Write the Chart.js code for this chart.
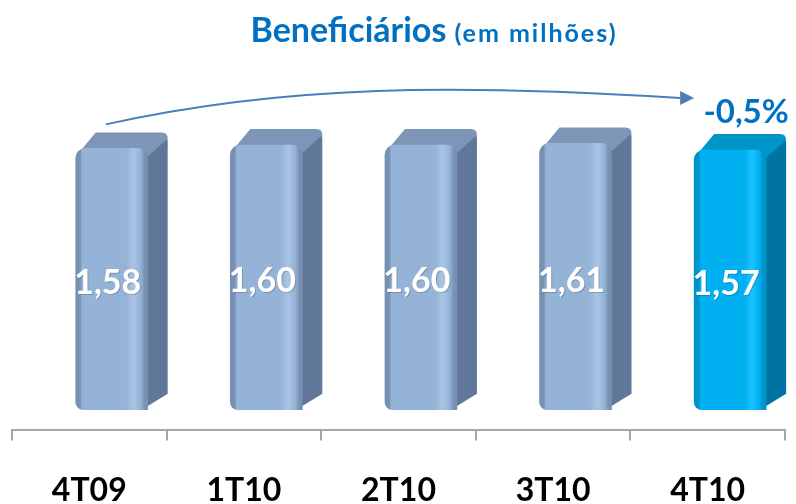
<!DOCTYPE html>
<html><head><meta charset="utf-8">
<script src="https://cdn.jsdelivr.net/npm/chart.js@4"></script>
<style>html,body{margin:0;padding:0;background:#fff}#wrap{width:796px;height:504px}</style>
</head><body><div id="wrap"><canvas id="c" width="796" height="504"></canvas></div>
<script>
const categories = ['4T09', '1T10', '2T10', '3T10', '4T10'];
const values = [1.58, 1.60, 1.60, 1.61, 1.57];
const valueLabels = ['1,58', '1,60', '1,60', '1,61', '1,57'];
const titleMain = 'Beneficiários';
const titleSub = ' (em milhões)';
const changeLabel = '-0,5%';
const highlightIndex = 4;

const BAR_SHIFT = 0.145;      // bar front face sits right of category centre
const BAR_W = 72;
const DX = 20, DY = -16;      // 3D depth
const FONT = 'Lato, "Open Sans", sans-serif';

const pal = {
  normal: {front: '#95b3d7', dark: '#7891b3', light: '#a9c4e4', side: '#61779a', top: '#7d95b6'},
  hi:     {front: '#00b0f0', dark: '#0093c9', light: '#1cc3ff', side: '#0074a0', top: '#0095c9'}
};
const colorsFor = i => i === highlightIndex ? pal.hi : pal.normal;

function frontFill(ctx) {
  const chart = ctx.chart;
  const c = colorsFor(ctx.dataIndex);
  const sc = chart.scales && chart.scales.xb;
  if (!sc) return c.front;
  const cx = sc.getPixelForValue(ctx.dataIndex + BAR_SHIFT);
  if (!isFinite(cx)) return c.front;
  const l = cx - BAR_W / 2;
  const g = chart.ctx.createLinearGradient(l, 0, l + BAR_W, 0);
  g.addColorStop(0, c.dark);
  g.addColorStop(0.06, c.dark);
  g.addColorStop(0.09, c.front);
  g.addColorStop(0.7, c.front);
  g.addColorStop(0.8, c.light);
  g.addColorStop(0.9, c.front);
  g.addColorStop(0.96, c.dark);
  g.addColorStop(1, c.dark);
  return g;
}

const depthPlugin = {
  id: 'depth',
  beforeDatasetsDraw(chart) {
    const ctx = chart.ctx;
    chart.getDatasetMeta(0).data.forEach((el, i) => {
      const c = colorsFor(i);
      const w = el.width, l = el.x - w / 2, r = el.x + w / 2, t = el.y, b = el.base;
      ctx.save();
      ctx.fillStyle = c.side;
      ctx.beginPath();
      ctx.moveTo(r - 8, t + 4);
      ctx.lineTo(r + DX - 2, t + DY + 4);
      ctx.quadraticCurveTo(r + DX, t + DY + 5, r + DX, t + DY + 10);
      ctx.lineTo(r + DX, b + DY);
      ctx.lineTo(r - 6, b);
      ctx.closePath();
      ctx.fill();
      ctx.fillStyle = c.top;
      ctx.beginPath();
      ctx.moveTo(l, t + 8);
      ctx.lineTo(l + DX, t + DY);
      ctx.lineTo(r + DX - 6, t + DY);
      ctx.quadraticCurveTo(r + DX, t + DY, r + DX, t + DY + 6);
      ctx.lineTo(r, t + 8);
      ctx.closePath();
      ctx.fill();
      ctx.restore();
    });
  },
  afterDatasetsDraw(chart) {
    const ctx = chart.ctx;
    const meta = chart.getDatasetMeta(0);
    ctx.save();
    ctx.textAlign = 'center';
    ctx.textBaseline = 'middle';
    ctx.font = 'bold 34px ' + FONT;
    meta.data.forEach((el, i) => {
      const mid = (el.y + el.base) / 2 + 4;
      ctx.fillStyle = 'rgba(0,0,0,0.18)';
      ctx.fillText(valueLabels[i], el.x - 4 + 1, mid + 1);
      ctx.fillStyle = '#ffffff';
      ctx.fillText(valueLabels[i], el.x - 4, mid);
    });
    ctx.fillStyle = '#0070c0';
    ctx.textBaseline = 'alphabetic';
    ctx.textAlign = 'left';
    ctx.font = 'bold 34px ' + FONT;
    const w1 = ctx.measureText(titleMain).width;
    ctx.font = 'bold 25px ' + FONT;
    ctx.letterSpacing = '2px';
    const w2 = ctx.measureText(titleSub).width;
    ctx.letterSpacing = '0px';
    const tx = 434 - (w1 + w2) / 2;
    ctx.font = 'bold 34px ' + FONT;
    ctx.fillText(titleMain, tx, 42);
    ctx.font = 'bold 25px ' + FONT;
    ctx.letterSpacing = '2px';
    ctx.fillText(titleSub, tx + w1, 42);
    ctx.letterSpacing = '0px';
    const first = meta.data[0], last = meta.data[meta.data.length - 1];
    const sx = first.x - 6, sy = first.y - 24;
    const ex = last.x - last.width / 2 - 4, ey = last.y - 52;
    ctx.strokeStyle = '#4a7ebb';
    ctx.fillStyle = '#4a7ebb';
    ctx.lineWidth = 2;
    ctx.beginPath();
    ctx.moveTo(sx, sy);
    ctx.bezierCurveTo(sx + 180, sy - 40, (sx + ex) / 2 + 60, ey - 14, ex - 10, ey);
    ctx.stroke();
    ctx.beginPath();
    ctx.moveTo(ex + 4, ey);
    ctx.lineTo(ex - 10, ey - 7);
    ctx.lineTo(ex - 10, ey + 7);
    ctx.closePath();
    ctx.fill();
    ctx.fillStyle = '#0070c0';
    ctx.font = 'bold 33px ' + FONT;
    ctx.textAlign = 'center';
    ctx.textBaseline = 'middle';
    ctx.fillText(changeLabel, last.x + 16, ey + 14);
    ctx.restore();
  }
};

new Chart(document.getElementById('c'), {
  type: 'bar',
  data: {
    labels: categories,
    datasets: [{
      data: values.map((v, i) => ({x: i + BAR_SHIFT, y: v})),
      xAxisID: 'xb',
      backgroundColor: frontFill,
      borderWidth: 0,
      borderRadius: {topLeft: 10, topRight: 10, bottomLeft: 8, bottomRight: 0},
      borderSkipped: false,
      barThickness: BAR_W
    }]
  },
  plugins: [depthPlugin],
  options: {
    responsive: false,
    animation: false,
    layout: {padding: {top: 112, left: 12, right: 11, bottom: -37}},
    plugins: {legend: {display: false}, tooltip: {enabled: false}},
    scales: {
      xb: {type: 'linear', min: -0.5, max: 4.5, display: false, offset: false},
      x: {
        type: 'category',
        labels: categories,
        offset: true,
        position: 'bottom',
        grid: {display: true, offset: true, drawOnChartArea: false, drawTicks: true, tickLength: 11, color: '#a6a6a6', lineWidth: 2},
        border: {display: true, color: '#a6a6a6', width: 2},
        ticks: {color: '#000000', font: {family: FONT, size: 32, weight: 'bold'}, padding: 31, maxRotation: 0}
      },
      y: {display: false, min: -0.12, max: 1.8}
    }
  }
});
</script>
</body></html>
